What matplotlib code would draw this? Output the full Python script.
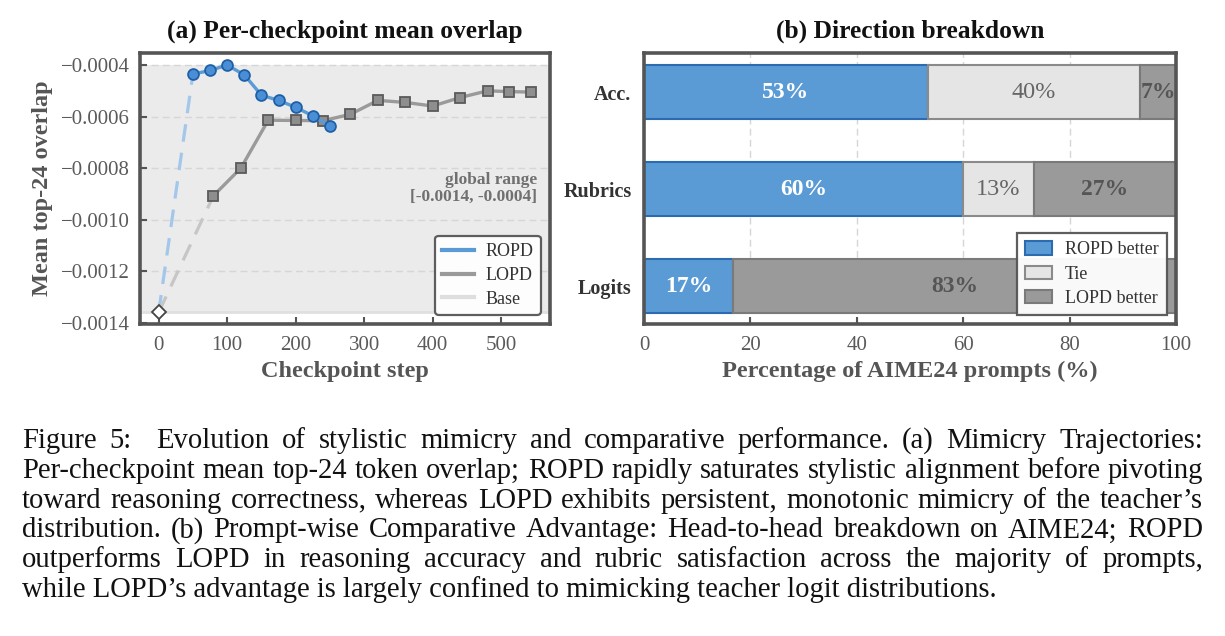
import matplotlib
matplotlib.use("Agg")
import matplotlib.pyplot as plt
from matplotlib.lines import Line2D
from matplotlib.patches import Patch

# ---------------- data ----------------
base_step = [0]
base_overlap = [-0.001360]

ropd_steps = [50, 75, 100, 125, 150, 175, 200, 225, 250]
ropd_overlap = [-0.000435, -0.000421, -0.000400, -0.000438, -0.000517,
                -0.000537, -0.000564, -0.000597, -0.000636]

lopd_steps = [80, 120, 160, 200, 240, 280, 320, 360, 400, 440, 480, 512, 544]
lopd_overlap = [-0.000907, -0.000800, -0.000614, -0.000615, -0.000616,
                -0.000591, -0.000537, -0.000545, -0.000559, -0.000526,
                -0.000500, -0.000503, -0.000505]

categories = ["Acc.", "Rubrics", "Logits"]
ropd_better = [53.3, 60.0, 16.7]
tie = [40.0, 13.3, 0.0]
lopd_better = [6.7, 26.7, 83.3]

caption_lines = [
    "Figure 5:  Evolution of stylistic mimicry and comparative performance. (a) Mimicry Trajectories:",
    "Per-checkpoint mean top-24 token overlap; ROPD rapidly saturates stylistic alignment before pivoting",
    "toward reasoning correctness, whereas LOPD exhibits persistent, monotonic mimicry of the teacher\u2019s",
    "distribution. (b) Prompt-wise Comparative Advantage: Head-to-head breakdown on AIME24; ROPD",
    "outperforms LOPD in reasoning accuracy and rubric satisfaction across the majority of prompts,",
    "while LOPD\u2019s advantage is largely confined to mimicking teacher logit distributions.",
]

# ---------------- style ----------------
plt.rcParams["font.family"] = ["Liberation Serif", "DejaVu Serif"]
plt.rcParams["axes.unicode_minus"] = True

SPINE = "#555555"
BLUE = "#5B9BD5"
BLUE_EDGE = "#2C6BB0"
GRAY = "#9A9A9A"
GRAY_EDGE = "#5A5A5A"
TIE = "#E5E5E5"
LABEL_C = "#555555"

W, H = 1225, 636
fig = plt.figure(figsize=(W / 100, H / 100), dpi=100)
fig.patch.set_facecolor("white")

def frac(x0, y0, x1, y1):
    return [x0 / W, 1 - y1 / H, (x1 - x0) / W, (y1 - y0) / H]

ax1 = fig.add_axes(frac(140, 52.7, 550, 324))
ax2 = fig.add_axes(frac(644, 52.7, 1176, 324))

def style_axes(ax):
    for s in ax.spines.values():
        s.set_color(SPINE)
        s.set_linewidth(2.6)
    ax.tick_params(direction="in", length=5, width=1.5, color=SPINE,
                   labelcolor="#5A5A5A", labelsize=15, pad=7)
    ax.tick_params(axis="x", pad=9)

# ---------------- panel (a) ----------------
style_axes(ax1)
all_vals = base_overlap + ropd_overlap + lopd_overlap
gmin, gmax = min(all_vals), max(all_vals)
ax1.axhspan(gmin, gmax, color="#EBEBEB", zorder=0, lw=0)
ax1.axhline(base_overlap[0], color="#E0E0E0", lw=2, zorder=0.6)
ax1.yaxis.grid(True, ls=(0, (5, 3)), color="#D6D6D6", lw=1, zorder=0.5)
ax1.set_axisbelow(True)

ax1.plot([base_step[0], ropd_steps[0]], [base_overlap[0], ropd_overlap[0]],
         ls=(0, (5.5, 3.5)), color="#A3C7EA", lw=2.3, zorder=2)
ax1.plot([base_step[0], lopd_steps[0]], [base_overlap[0], lopd_overlap[0]],
         ls=(0, (5.5, 3.5)), color="#C6C6C6", lw=2.3, zorder=2)
ax1.plot(lopd_steps, lopd_overlap, color=GRAY, lw=2.4, marker="s", ms=7.8,
         mfc="#8E8E8E", mec=GRAY_EDGE, mew=1.3, zorder=3)
ax1.plot(ropd_steps, ropd_overlap, color=BLUE, lw=2.4, marker="o", ms=7.8,
         mfc="#4A8FD6", mec="#1F5FA8", mew=1.3, zorder=4)
ax1.plot(base_step, base_overlap, marker="D", ms=7.5, mfc="white",
         mec="#444444", mew=1.3, ls="none", zorder=5)

ax1.set_xlim(-27.2, 571.2)
ax1.set_ylim(-0.001405, -0.000352)
ax1.set_xticks([0, 100, 200, 300, 400, 500])
ax1.set_yticks([-0.0014, -0.0012, -0.0010, -0.0008, -0.0006, -0.0004])
ax1.set_yticklabels([f"{v:.4f}".replace("-", "\u2212") for v in ax1.get_yticks()])
ax1.set_title("(a) Per-checkpoint mean overlap", fontsize=18.4, fontweight="bold",
              color="#111111", pad=11)
ax1.set_xlabel("Checkpoint step", fontsize=17.5, fontweight="bold", color=LABEL_C, labelpad=4)
ax1.set_ylabel("Mean top-24 overlap", fontsize=17.5, fontweight="bold", color=LABEL_C, labelpad=6)

ax1.text(0.968, 0.5, f"global range\n[{gmin:.4f}, {gmax:.4f}]", transform=ax1.transAxes,
         ha="right", va="center", multialignment="right", fontsize=12.5,
         fontweight="bold", color="#707070", linespacing=1.05)

h1 = [Line2D([], [], color=BLUE, lw=3), Line2D([], [], color=GRAY, lw=3),
      Line2D([], [], color="#DEDEDE", lw=3)]
leg1 = ax1.legend(h1, ["ROPD", "LOPD", "Base"], loc="lower right", fontsize=13,
                  frameon=True, fancybox=True, handlelength=1.75, handletextpad=0.65,
                  borderpad=0.4, labelspacing=0.38, borderaxespad=0.5)
leg1.get_frame().set_edgecolor(SPINE)
leg1.get_frame().set_linewidth(1.6)
leg1.get_frame().set_alpha(0.95)
for t in leg1.get_texts():
    t.set_color("#333333")

# ---------------- panel (b) ----------------
style_axes(ax2)
ypos = list(range(len(categories)))
bh = 0.55
left_tie = ropd_better
left_lopd = [a + b for a, b in zip(ropd_better, tie)]
ax2.barh(ypos, ropd_better, height=bh, color=BLUE, edgecolor=BLUE_EDGE, lw=1.5, zorder=2)
ax2.barh(ypos, tie, left=left_tie, height=bh, color=TIE, edgecolor="#8A8A8A", lw=1.5, zorder=2)
ax2.barh(ypos, lopd_better, left=left_lopd, height=bh, color=GRAY, edgecolor="#7A7A7A", lw=1.5, zorder=2)

for i in ypos:
    if ropd_better[i] > 0:
        ax2.text(ropd_better[i] / 2, i, f"{round(ropd_better[i])}%", ha="center", va="center",
                 color="white", fontsize=17, fontweight="bold", zorder=3)
    if tie[i] > 0:
        ax2.text(left_tie[i] + tie[i] / 2, i, f"{round(tie[i])}%", ha="center", va="center",
                 color="#666666", fontsize=17.5, zorder=3)
    if lopd_better[i] > 0:
        ax2.text(left_lopd[i] + lopd_better[i] / 2, i, f"{round(lopd_better[i])}%", ha="center",
                 va="center", color="#555555", fontsize=17, fontweight="bold", zorder=3)

ax2.set_xlim(0, 100)
ax2.set_ylim(len(categories) - 1 + 0.39, -0.405)
ax2.set_yticks(ypos)
ax2.set_yticklabels(categories, fontsize=14.5, fontweight="bold", color="#333333")
ax2.tick_params(axis="y", length=0, pad=9)
ax2.set_xticks([0, 20, 40, 60, 80, 100])
ax2.xaxis.grid(True, ls=(0, (5, 3)), color="#D6D6D6", lw=1, zorder=0.5)
ax2.set_axisbelow(True)
for g, v in zip(ax2.get_xgridlines(), [0, 20, 40, 60, 80, 100]):
    if v in (0, 100):
        g.set_visible(False)
ax2.set_title("(b) Direction breakdown", fontsize=18.4, fontweight="bold", color="#111111", pad=11)
ax2.set_xlabel("Percentage of AIME24 prompts (%)", fontsize=17.5, fontweight="bold",
               color=LABEL_C, labelpad=4)

h2 = [Patch(facecolor=BLUE, edgecolor=BLUE_EDGE, lw=1.5),
      Patch(facecolor=TIE, edgecolor="#8A8A8A", lw=1.5),
      Patch(facecolor=GRAY, edgecolor="#7A7A7A", lw=1.5)]
leg2 = ax2.legend(h2, ["ROPD better", "Tie", "LOPD better"], loc="lower right", fontsize=13,
                  frameon=True, fancybox=False, handlelength=1.5, handleheight=0.75,
                  handletextpad=0.7, borderpad=0.45, labelspacing=0.4, borderaxespad=0.5)
leg2.get_frame().set_edgecolor(SPINE)
leg2.get_frame().set_linewidth(1.6)
leg2.get_frame().set_alpha(0.95)
for t in leg2.get_texts():
    t.set_color("#333333")

# ---------------- caption (justified) ----------------
renderer = fig.canvas.get_renderer()
CAP_SIZE = 20.6
x_left, x_right = 22, 1203
base0, step = 448, 29.8

for li, line in enumerate(caption_lines):
    yb = base0 + li * step
    yf = 1 - yb / H
    if li == len(caption_lines) - 1:
        fig.text(x_left / W, yf, line, fontsize=CAP_SIZE, va="baseline", ha="left", color="#111111")
        continue
    raw = line.split(" ")
    words, weights = [], []
    for tok in raw:
        if tok == "":
            weights[-1] += 1
        else:
            words.append(tok)
            weights.append(1)
    weights = weights[:-1]
    arts = [fig.text(0, yf, w, fontsize=CAP_SIZE, va="baseline", ha="left", color="#111111")
            for w in words]
    widths = [a.get_window_extent(renderer).width for a in arts]
    free = (x_right - x_left) - sum(widths)
    unit = free / sum(weights)
    x = x_left
    for a, wd, k in zip(arts, widths, range(len(arts))):
        a.set_x(x / W)
        x += wd
        if k < len(weights):
            x += unit * weights[k]

fig.savefig("out.png", dpi=100, facecolor="white")
